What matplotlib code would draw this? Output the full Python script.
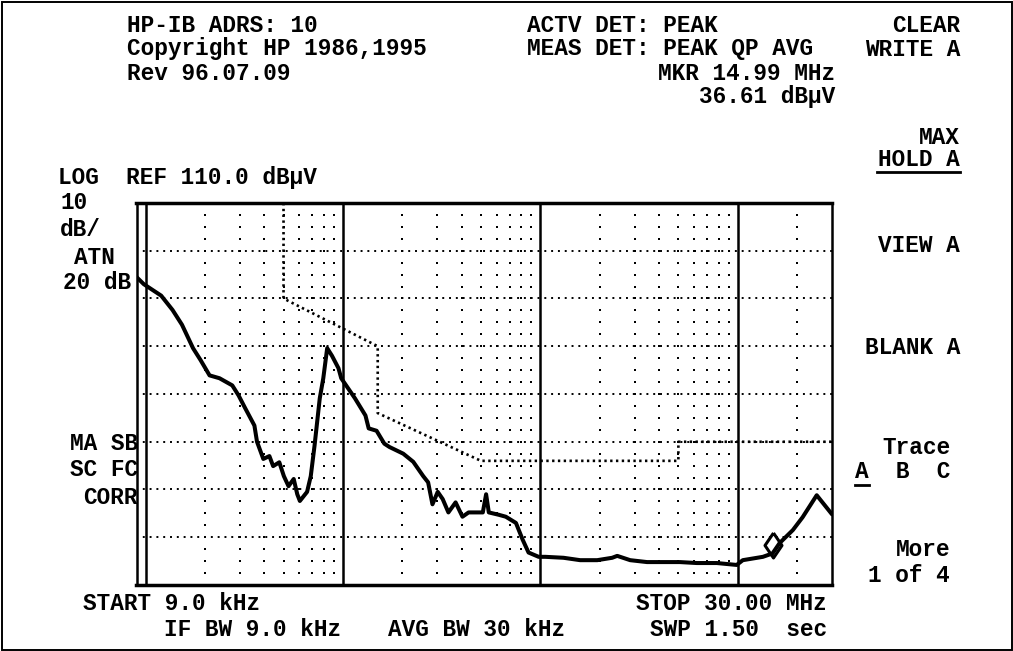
import numpy as np
import matplotlib
matplotlib.use("Agg")
import matplotlib.pyplot as plt
from matplotlib.patches import Rectangle
from matplotlib.transforms import offset_copy

# ---- measurement settings ----
start_hz = 9.0e3
stop_hz = 30.0e6
ref_level = 110.0
db_per_div = 10.0
n_div = 8
bottom_level = ref_level - db_per_div * n_div

# ---- trace A (max hold), frequency in kHz, level in dBuV ----
trace_khz = [9.0, 9.8, 12.0, 13.7, 15.3, 17.4, 19.0, 21.1, 23.7, 27.5, 29.6,
             32.0, 35.6, 36.7, 39.5, 42.4, 44.3, 47.6, 50.2, 53.0, 56.3, 58.7,
             60.5, 65.8, 68.7, 71.8, 76.3, 79.5, 83.2, 88.0, 94.9, 98.0, 115,
             130, 135, 148, 162, 172, 202, 227, 255, 270, 284, 302, 320, 342,
             372, 403, 433, 511, 531, 548, 616, 668, 752, 813, 871, 980,
             1060, 1310, 1590, 1940, 2310, 2450, 2850, 3470, 4170, 5090, 6200,
             7830, 9870, 10600, 13400, 14990, 16300, 19000, 21300, 25100, 30000]
trace_db = [94.5, 93.0, 90.6, 87.6, 84.5, 79.6, 77.1, 73.9, 73.3, 71.8, 69.7,
            67.0, 63.4, 60.0, 56.4, 57.0, 54.9, 55.7, 52.8, 50.7, 52.2, 49.0,
            47.6, 49.5, 52.8, 59.2, 69.1, 73.3, 79.6, 78.0, 75.4, 73.3, 69.1,
            65.5, 62.8, 62.3, 59.6, 58.9, 57.5, 55.8, 52.8, 51.5, 46.9, 49.5,
            48.0, 45.2, 47.3, 44.3, 45.2, 45.2, 49.0, 45.2, 44.7, 44.3, 43.0,
            39.5, 36.8, 35.9, 35.9, 35.7, 35.2, 35.2, 35.7, 36.1, 35.2, 34.8,
            34.8, 34.8, 34.6, 34.6, 34.2, 35.2, 35.9, 36.61, 38.8, 41.5, 44.2,
            48.8, 44.8]

# ---- limit line (dotted), frequency in kHz, level in dBuV ----
limit_khz = [50, 50, 150, 150, 500, 5000, 5000, 30000]
limit_db = [110, 90, 80, 66, 56, 56, 60, 60]

# ---- marker ----
marker_mhz = 14.99
marker_db = 36.61

# ---- screen annotations ----
header_left = ["HP-IB ADRS: 10", "Copyright HP 1986,1995", "Rev 96.07.09"]
header_mid = ["ACTV DET: PEAK", "MEAS DET: PEAK QP AVG"]
marker_text = [f"MKR {marker_mhz:.2f} MHz", f"{marker_db:.2f} dB\u00b5V"]
scale_text = ["10", "dB/", "ATN", "20 dB"]
corr_text = ["MA SB", "SC FC", "CORR"]
softkeys_upper = ["CLEAR", "WRITE A", "MAX", "HOLD A", "VIEW A", "BLANK A"]
softkeys_lower = ["Trace", "A  B  C", "More", "1 of 4"]
footer = ["START 9.0 kHz", "IF BW 9.0 kHz", "AVG BW 30 kHz",
          "STOP 30.00 MHz", "SWP 1.50  sec"]

W_PX, H_PX = 1013, 651
fig = plt.figure(figsize=(W_PX / 100, H_PX / 100), dpi=100)
fig.patch.set_facecolor("white")

# graticule placement in pixels
gx0, gx1, gy0, gy1 = 136.5, 832.0, 203.0, 585.0
ax = fig.add_axes([gx0 / W_PX, 1 - gy1 / H_PX, (gx1 - gx0) / W_PX, (gy1 - gy0) / H_PX])
ax.set_xscale("log")
ax.set_xlim(start_hz, stop_hz)
ax.set_ylim(bottom_level, ref_level)
ax.set_xticks([])
ax.set_yticks([])
ax.minorticks_off()
ax.tick_params(which="both", length=0, labelbottom=False, labelleft=False)
for side, lw in (("top", 2.5), ("bottom", 2.5), ("left", 1.8), ("right", 1.8)):
    ax.spines[side].set_linewidth(lw)
    ax.spines[side].set_color("black")

# decade lines
for dec in (1e4, 1e5, 1e6, 1e7):
    ax.axvline(dec, color="black", lw=1.8, zorder=2)

# horizontal dotted division lines
levels = np.arange(bottom_level + db_per_div, ref_level, db_per_div)
for lv in levels:
    ax.plot([start_hz, stop_hz], [lv, lv], color="black", lw=1.4,
            linestyle=(0, (1.0, 2.5)), zorder=2)

# dotted columns at 2..9 within each decade
sub_levels = np.arange(bottom_level + 2.5, ref_level, 2.5)
for dec in (1e4, 1e5, 1e6, 1e7):
    for m in range(2, 10):
        f = dec * m
        if f >= stop_hz:
            continue
        ax.plot(np.full_like(sub_levels, f), sub_levels, linestyle="none",
                marker="s", ms=1.8, mec="black", mfc="black", mew=0, zorder=2)

# limit line
ax.plot(np.array(limit_khz) * 1e3, limit_db, color="black", lw=1.9,
        linestyle=(0, (0.9, 1.3)), zorder=3)

# trace A
ax.plot(np.array(trace_khz) * 1e3, trace_db, color="black", lw=2.9,
        solid_joinstyle="round", solid_capstyle="round", zorder=4)

# marker diamond, sitting on the trace point
diamond = [(0, 1), (0.68, 0), (0, -1), (-0.68, 0), (0, 1)]
marker_tr = offset_copy(ax.transData, fig=fig, x=0, y=6, units="points")
ax.plot([marker_mhz * 1e6], [marker_db], marker=diamond, ms=18, mfc="none",
        mec="black", mew=2.2, zorder=5, transform=marker_tr, clip_on=False)

# ---- text ----
font = dict(family=["Liberation Mono", "DejaVu Sans Mono"], fontweight="bold",
            fontsize=16.4, color="black")


def put(x, y, s, ha="left"):
    return fig.text(x / W_PX, 1 - y / H_PX, s, ha=ha, va="center", **font)


def underline(x0, x1, y):
    fig.add_artist(plt.Line2D([x0 / W_PX, x1 / W_PX], [1 - y / H_PX] * 2,
                              color="black", lw=2.0))


rows = [26, 49, 73, 97]
for y, s in zip(rows, header_left):
    put(127, y, s)
for y, s in zip(rows, header_mid):
    put(527, y, s)
put(835, rows[2], marker_text[0], ha="right")
put(835, rows[3], marker_text[1], ha="right")

put(58, 177, f"LOG  REF {ref_level:.1f} dB\u00b5V")
put(60, 203, scale_text[0])
put(60, 230, scale_text[1])
put(74, 257, scale_text[2])
put(63, 283, scale_text[3])

for y, s in zip((443, 470, 497), corr_text):
    put(138, y, s, ha="right")

for y, s in zip([rows[0], rows[1], 137, 160, 245, 348], softkeys_upper):
    put(960, y, s, ha="right")
for y, s in zip([448, 472, 550, 575], softkeys_lower):
    put(950, y, s, ha="right")

# underlines for active softkey selections
underline(877, 960, 172)
underline(855, 869, 485)

put(83, 603, footer[0])
put(164, 629, footer[1])
put(388, 629, footer[2])
put(827, 603, footer[3], ha="right")
put(827, 629, footer[4], ha="right")

# outer screen frame
fig.add_artist(Rectangle((1.5 / W_PX, 1.5 / H_PX), 1 - 3 / W_PX, 1 - 3 / H_PX,
                         transform=fig.transFigure, fill=False, lw=1.4,
                         edgecolor="black"))

fig.savefig("out.png", dpi=100, facecolor="white")
